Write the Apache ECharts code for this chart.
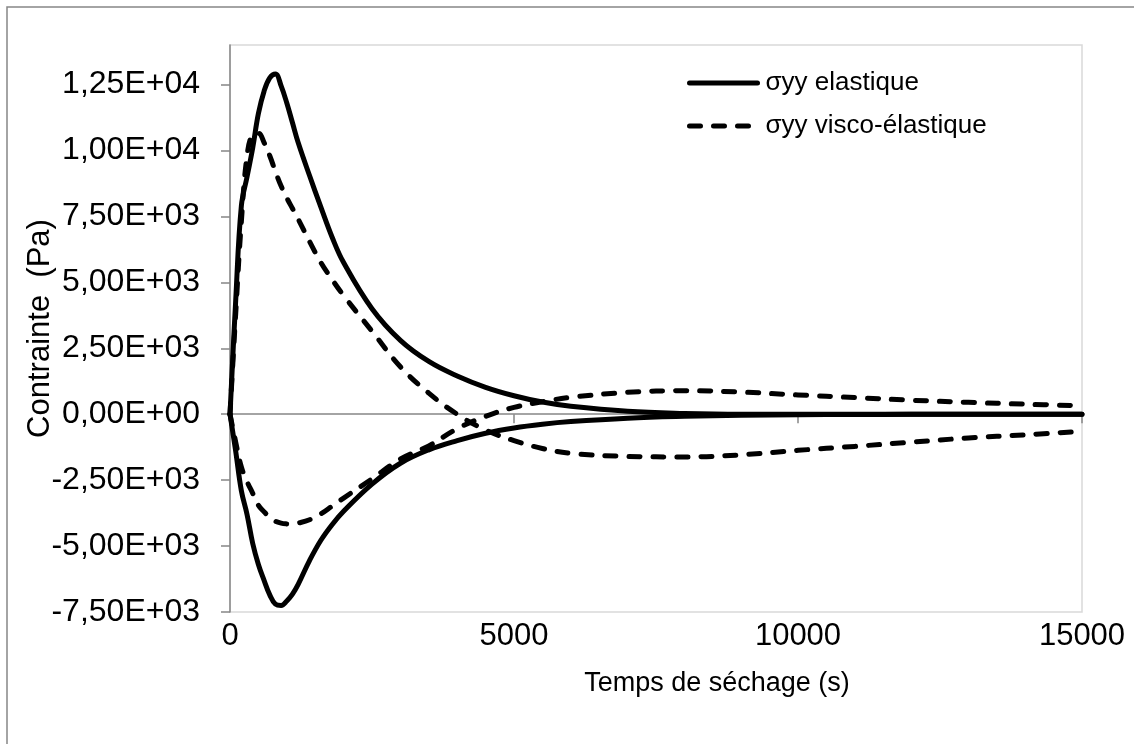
<!DOCTYPE html>
<html>
<head>
<meta charset="utf-8">
<script src="https://cdn.jsdelivr.net/npm/echarts@6/dist/echarts.min.js"></script>
<style>html,body{margin:0;padding:0;background:#fff}#c{width:1134px;height:744px}</style>
</head>
<body>
<div id="c"></div>
<script>
// Time (s)
const times = [0, 100, 200, 300, 400, 500, 600, 700, 800, 900, 1000, 1100, 1200, 1400, 1600, 1800, 2000, 2500, 3000, 3500, 4000, 4500, 5000, 5500, 6000, 7000, 8000, 9000, 10000, 11000, 12000, 13000, 14000, 15000];
// σyy elastique (positive branch)
const elasticUpper = [0, 4300, 7900, 9000, 10100, 11400, 12250, 12750, 12900, 12450, 11800, 11050, 10300, 9050, 7850, 6700, 5750, 4000, 2800, 2000, 1450, 1020, 700, 460, 300, 110, 30, 0, 0, 0, 0, 0, 0, 0];
// σyy elastique (negative branch)
const elasticLower = [0, -1400, -2900, -3800, -4900, -5700, -6300, -6850, -7200, -7250, -7080, -6820, -6450, -5550, -4780, -4180, -3680, -2650, -1860, -1350, -1000, -720, -520, -380, -280, -150, -80, -40, -20, -10, -5, 0, 0, 0];
// σyy visco-élastique (branch starting positive)
const viscoUpper = [0, 3800, 7300, 9800, 10600, 10650, 10300, 9800, 9200, 8650, 8200, 7800, 7400, 6550, 5750, 5100, 4500, 3150, 1800, 800, 0, -600, -1000, -1300, -1480, -1600, -1620, -1540, -1370, -1220, -1060, -900, -780, -650];
// σyy visco-élastique (branch starting negative)
const viscoLower = [0, -1050, -2000, -2550, -3000, -3450, -3700, -3900, -4060, -4130, -4160, -4170, -4130, -4000, -3780, -3480, -3180, -2450, -1700, -1200, -550, -80, 260, 470, 640, 830, 890, 840, 730, 630, 530, 450, 380, 320];
const yTicks = [-7500, -5000, -2500, 0, 2500, 5000, 7500, 10000, 12500];
const xTicks = [0, 5000, 10000, 15000];
const nameElastic = 'σyy elastique';
const nameVisco = 'σyy visco-élastique';

function sci(v) {
  if (v === 0) return '0,00E+00';
  const e = Math.floor(Math.log10(Math.abs(v)) + 1e-9);
  const m = v / Math.pow(10, e);
  return m.toFixed(2).replace('.', ',') + 'E' + (e >= 0 ? '+' : '-') + String(Math.abs(e)).padStart(2, '0');
}
const pairs = arr => times.map((t, i) => [t, arr[i]]);
const FONT = "'Liberation Sans', Arial, sans-serif";
const solid = { color: '#000', width: 5, type: 'solid', cap: 'round', join: 'round' };
const dashed = { color: '#000', width: 5, type: [11, 13], cap: 'round', join: 'round' };
function mk(name, arr, ls) {
  return { name, type: 'line', data: pairs(arr), symbol: 'none', showSymbol: false,
    smooth: 0.4, lineStyle: ls, itemStyle: { color: '#000' }, z: 3, silent: true };
}

const chart = echarts.init(document.getElementById('c'), null, { renderer: 'canvas' });
chart.setOption({
  animation: false,
  backgroundColor: '#fff',
  textStyle: { fontFamily: FONT, color: '#000' },
  graphic: [{ type: 'rect', shape: { x: 7, y: 7, width: 1300, height: 900 },
    style: { fill: 'none', stroke: '#868686', lineWidth: 1.5 }, silent: true }],
  grid: { left: 230, top: 45, right: 52, bottom: 132, show: true, borderColor: '#d9d9d9', borderWidth: 1.5, backgroundColor: 'transparent' },
  legend: {
    orient: 'vertical', left: 687, top: 70, padding: 0, itemWidth: 68, itemHeight: 20, itemGap: 17,
    selectedMode: false, data: [nameElastic, nameVisco],
    itemStyle: { color: 'rgba(0,0,0,0)', borderWidth: 0, opacity: 0 },
    lineStyle: { width: 5, cap: 'round' },
    textStyle: { fontFamily: FONT, fontSize: 26, color: '#000', padding: [0, 0, 0, 3] }
  },
  xAxis: {
    type: 'value', min: 0, max: 15000, interval: 5000,
    name: 'Temps de séchage (s)', nameLocation: 'middle', nameGap: 58, nameMoveOverlap: false,
    nameTextStyle: { fontFamily: FONT, fontSize: 27, color: '#000', padding: [0, 0, 0, 122] },
    axisLine: { show: true, lineStyle: { color: '#868686', width: 1.5 } },
    axisTick: { show: true, length: 9, lineStyle: { color: '#868686', width: 1.5 }, customValues: xTicks },
    axisLabel: { fontFamily: FONT, fontSize: 31, color: '#000', margin: 9, customValues: xTicks, formatter: v => String(v) },
    splitLine: { show: false }
  },
  yAxis: {
    type: 'value', min: -7500, max: 14000, interval: 2500,
    name: 'Contrainte  (Pa)', nameLocation: 'middle', nameGap: 174, nameRotate: 90, nameMoveOverlap: false,
    nameTextStyle: { fontFamily: FONT, fontSize: 31, color: '#000' },
    axisLine: { show: true, onZero: false, lineStyle: { color: '#868686', width: 1.5 } },
    axisTick: { show: true, length: 9, lineStyle: { color: '#868686', width: 1.5 }, customValues: yTicks },
    axisLabel: { fontFamily: FONT, fontSize: 32, color: '#000', margin: 30, formatter: sci, customValues: yTicks },
    splitLine: { show: false }
  },
  series: [
    mk(nameElastic, elasticUpper, solid),
    mk(nameElastic, elasticLower, solid),
    mk(nameVisco, viscoUpper, dashed),
    mk(nameVisco, viscoLower, dashed)
  ]
});
</script>
</body>
</html>
